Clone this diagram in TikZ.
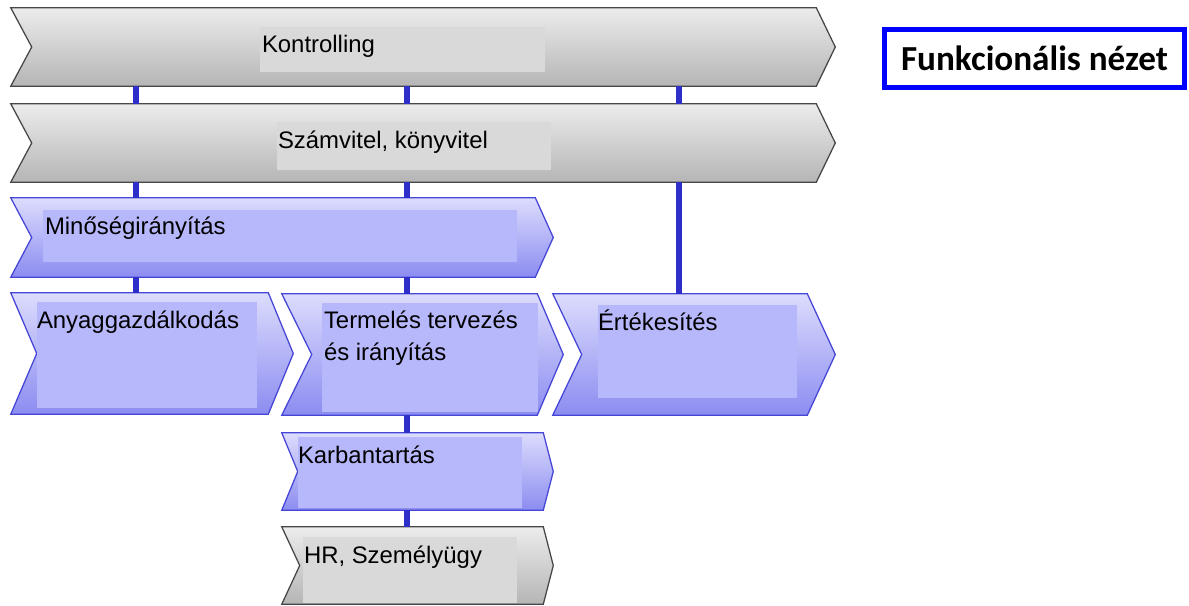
\documentclass[tikz,border=0pt]{standalone}
\usepackage{fontspec}
\setmainfont{Liberation Sans}
\newfontfamily\titlefont{Carlito}
\usepackage{tikz}
\usetikzlibrary{calc,fit}
\usepackage{xcolor}
\definecolor{graytop}{HTML}{ECECEC}
\definecolor{graymid}{HTML}{D3D3D3}
\definecolor{graybot}{HTML}{B5B5B5}
\definecolor{grayfill}{HTML}{D9D9D9}
\definecolor{grayedge}{HTML}{474747}
\definecolor{bluetop}{HTML}{DCDCFD}
\definecolor{bluemid}{HTML}{B4B4FB}
\definecolor{bluebot}{HTML}{8C8CF1}
\definecolor{bluefill}{HTML}{B7B7FC}
\definecolor{blueedge}{HTML}{4646D6}
\definecolor{linkblue}{HTML}{2E2EC9}
\definecolor{primary}{HTML}{0000FF}

\tikzset{
  body/.style={inner sep=0pt},
  grayband/.style={draw=grayedge, line width=0.9pt, top color=graytop, middle color=graymid, bottom color=graybot},
  blueband/.style={draw=blueedge, line width=0.9pt, top color=bluetop, middle color=bluemid, bottom color=bluebot},
  graylbl/.style={inner sep=0pt, fill=grayfill},
  bluelbl/.style={inner sep=0pt, fill=bluefill},
  txt/.style={anchor=base west, inner sep=0pt, align=left, font=\fontsize{17}{22.8}\selectfont},
  link/.style={draw=linkblue, line width=3.6pt},
  titlebox/.style={draw=primary, line width=3.6pt, inner sep=0pt, minimum width=7.5cm, minimum height=1.45cm}
}

\begin{document}
\begin{tikzpicture}[x=0.025cm, y=-0.025cm]
    \useasboundingbox (0,0) rectangle (1189,605);

    % Bands
    \node[body, fit={(11,8) (816,86)}] (kontr) {};
    \shade[grayband] (kontr.north west) -- (kontr.north east) -- ($(kontr.east)+(19,0)$)
        -- (kontr.south east) -- (kontr.south west) -- ($(kontr.west)+(21,0)$) -- cycle;
    \node[body, fit={(11,104) (816,182)}] (szamv) {};
    \shade[grayband] (szamv.north west) -- (szamv.north east) -- ($(szamv.east)+(19,0)$)
        -- (szamv.south east) -- (szamv.south west) -- ($(szamv.west)+(21,0)$) -- cycle;
    \node[body, fit={(11,198) (535,277)}] (minos) {};
    \shade[blueband] (minos.north west) -- (minos.north east) -- ($(minos.east)+(18,0)$)
        -- (minos.south east) -- (minos.south west) -- ($(minos.west)+(21,0)$) -- cycle;
    \node[body, fit={(11,293) (268,414)}] (anyag) {};
    \shade[blueband] (anyag.north west) -- (anyag.north east) -- ($(anyag.east)+(25,0)$)
        -- (anyag.south east) -- (anyag.south west) -- ($(anyag.west)+(26,0)$) -- cycle;
    \node[body, fit={(282,294) (537,415)}] (termel) {};
    \shade[blueband] (termel.north west) -- (termel.north east) -- ($(termel.east)+(26,0)$)
        -- (termel.south east) -- (termel.south west) -- ($(termel.west)+(30,0)$) -- cycle;
    \node[body, fit={(553,294) (807,415)}] (ertek) {};
    \shade[blueband] (ertek.north west) -- (ertek.north east) -- ($(ertek.east)+(28,0)$)
        -- (ertek.south east) -- (ertek.south west) -- ($(ertek.west)+(29,0)$) -- cycle;
    \node[body, fit={(282,433) (543,510)}] (karb) {};
    \shade[blueband] (karb.north west) -- (karb.north east) -- ($(karb.east)+(10,0)$)
        -- (karb.south east) -- (karb.south west) -- ($(karb.west)+(16,0)$) -- cycle;
    \node[body, fit={(282,527) (543,604)}] (hr) {};
    \shade[grayband] (hr.north west) -- (hr.north east) -- ($(hr.east)+(10,0)$)
        -- (hr.south east) -- (hr.south west) -- ($(hr.west)+(18,0)$) -- cycle;

    % Label fields
    \node[graylbl, fit={(260,27) (545,72)}] (kontrL) {};
    \node[graylbl, fit={(277,122) (551,170)}] (szamvL) {};
    \node[bluelbl, fit={(43,210) (517,262)}] (minosL) {};
    \node[bluelbl, fit={(37,302) (257,408)}] (anyagL) {};
    \node[bluelbl, fit={(322,303) (538,412)}] (termelL) {};
    \node[bluelbl, fit={(598,305) (797,398)}] (ertekL) {};
    \node[bluelbl, fit={(298,437) (522,508)}] (karbL) {};
    \node[graylbl, fit={(303,537) (517,603)}] (hrL) {};

    % Labels
    \node[txt] (kontrT) at ($(kontrL.north west)+(2,26)$) {Kontrolling};
    \node[txt] (szamvT) at ($(szamvL.north west)+(1,27)$) {Számvitel, könyvitel};
    \node[txt] (minosT) at ($(minosL.north west)+(2,25)$) {Minőségirányítás};
    \node[txt] (anyagT) at ($(anyagL.north west)+(0,27)$) {Anyaggazdálkodás};
    \node[txt] (termelT) at ($(termelL.north west)+(2,58)$) {Termelés tervezés\\és irányítás};
    \node[txt] (ertekT) at ($(ertekL.north west)+(0,26)$) {Értékesítés};
    \node[txt] (karbT) at ($(karbL.north west)+(0,27)$) {Karbantartás};
    \node[txt] (hrT) at ($(hrL.north west)+(1,27)$) {HR, Személyügy};

    % Links
    \coordinate (c1) at (136,0);
    \coordinate (c2) at (407,0);
    \coordinate (c3) at (679,0);
    \draw[link] (kontr.south -| c1) -- (szamv.north -| c1);
    \draw[link] (kontr.south -| c2) -- (szamv.north -| c2);
    \draw[link] (kontr.south -| c3) -- (szamv.north -| c3);
    \draw[link] (szamv.south -| c1) -- (minos.north -| c1);
    \draw[link] (szamv.south -| c2) -- (minos.north -| c2);
    \draw[link] (szamv.south -| c3) -- (ertek.north -| c3);
    \draw[link] (minos.south -| c1) -- (anyag.north -| c1);
    \draw[link] (minos.south -| c2) -- (termel.north -| c2);
    \draw[link] (termel.south -| c2) -- (karb.north -| c2);
    \draw[link] (karb.south -| c2) -- (hr.north -| c2);

    % Title
    \node[titlebox, font=\titlefont\bfseries\fontsize{25}{28}\selectfont] (title) at (1034.5,58.5) {Funkcionális nézet};
\end{tikzpicture}
\end{document}
